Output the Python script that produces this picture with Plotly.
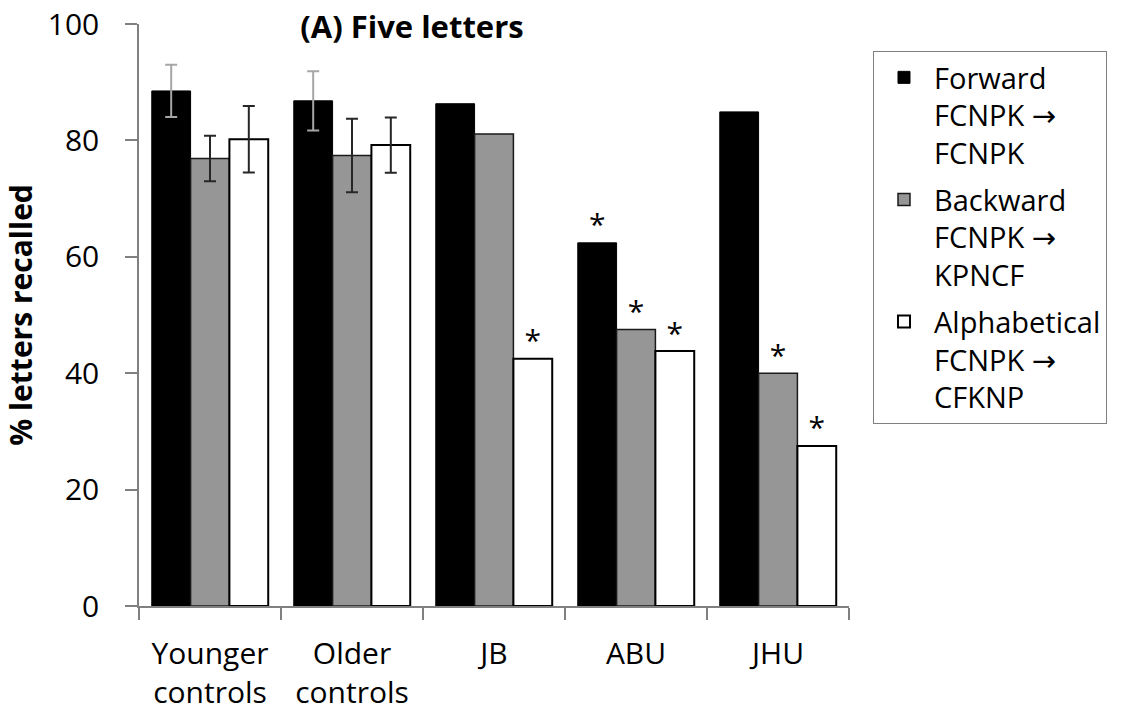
import plotly.graph_objects as go

categories = ["Younger<br>controls", "Older<br>controls", "JB", "ABU", "JHU"]

forward = [88.5, 86.8, 86.3, 62.4, 84.9]
backward = [76.9, 77.4, 81.1, 47.5, 40.0]
alphabetical = [80.2, 79.2, 42.5, 43.8, 27.5]

# error bars exist only for the two control groups
forward_err = [4.5, 5.1]
backward_err = [3.9, 6.3]
alphabetical_err = [5.7, 4.75]

# significance markers (True = asterisk shown above the bar)
forward_sig = [False, False, False, True, False]
backward_sig = [False, False, False, True, True]
alphabetical_sig = [False, False, True, True, True]

ARROW = '<span style="font-family:DejaVu Sans">→</span>'
series_names = [
    f"Forward<br>FCNPK {ARROW}<br>FCNPK",
    f"Backward<br>FCNPK {ARROW}<br>KPNCF",
    f"Alphabetical<br>FCNPK {ARROW}<br>CFKNP",
]

FONT = "Open Sans"

fig = go.Figure()

specs = [
    (forward, forward_err, forward_sig, "#000000", "#000000", "#a6a6a6", 1.0),
    (backward, backward_err, backward_sig, "#969696", "#1a1a1a", "#262626", 1.5),
    (alphabetical, alphabetical_err, alphabetical_sig, "#ffffff", "#000000", "#262626", 2.0),
]

for i, (vals, errs, sig, fill, line, ecol, lw) in enumerate(specs):
    fig.add_trace(go.Bar(
        x=categories, y=vals, name=series_names[i],
        marker=dict(color=fill, line=dict(color=line, width=lw)),
        error_y=dict(type="data", array=errs, visible=True, color=ecol,
                     thickness=2, width=6),
        offsetgroup=str(i), legendgroup=str(i),
    ))

for i, (vals, errs, sig, fill, line, ecol, lw) in enumerate(specs):
    xs = [c for c, s in zip(categories, sig) if s]
    ys = [v for v, s in zip(vals, sig) if s]
    fig.add_trace(go.Scatter(
        x=xs, y=ys, mode="text", text=["*"] * len(xs),
        textposition="top center",
        textfont=dict(family=FONT, size=30, color="#000000"),
        offsetgroup=str(i), showlegend=False, hoverinfo="skip",
    ))

fig.update_layout(
    width=1124, height=719,
    margin=dict(l=139, r=275, t=24, b=113, autoexpand=False),
    plot_bgcolor="white", paper_bgcolor="white",
    barmode="group", bargap=0.18, bargroupgap=0,
    scattermode="group",
    font=dict(family=FONT, size=30, color="#000000"),
    title=dict(text="<b>(A) Five letters</b>", x=0.3665, xanchor="center",
               y=0.962, yanchor="middle",
               font=dict(family=FONT, size=31, color="#000000")),
    legend=dict(x=1.0338, xanchor="left", y=0.9536, yanchor="top",
                bordercolor="#808080", borderwidth=1, bgcolor="white",
                font=dict(family=FONT, size=29, color="#000000"),
                valign="top", traceorder="grouped", tracegroupgap=6,
                itemwidth=50),
    showlegend=True,
)

fig.update_xaxes(
    type="category", showline=True, linecolor="#808080", linewidth=1.5,
    ticks="outside", tickson="boundaries", ticklen=12, tickcolor="#808080",
    tickwidth=1.5, showgrid=False, automargin=False,
    tickfont=dict(family=FONT, size=30, color="#000000"),
    ticklabelstandoff=20,
)
fig.update_yaxes(
    range=[0, 100], tickvals=[0, 20, 40, 60, 80, 100],
    showline=True, linecolor="#808080", linewidth=1.5,
    ticks="outside", ticklen=12, tickcolor="#808080", tickwidth=1.5,
    showgrid=False, zeroline=False, automargin=False,
    ticklabeloverflow="allow",
    tickfont=dict(family=FONT, size=30, color="#000000"),
    ticklabelstandoff=20,
    title=dict(text="<b>% letters recalled</b>", standoff=7,
               font=dict(family=FONT, size=30, color="#000000")),
)

# remove the browser's default 8px page margin so the figure fills the window
fig.write_html("out.html", config={"displayModeBar": False},
               post_script="document.body.style.margin='0';")
